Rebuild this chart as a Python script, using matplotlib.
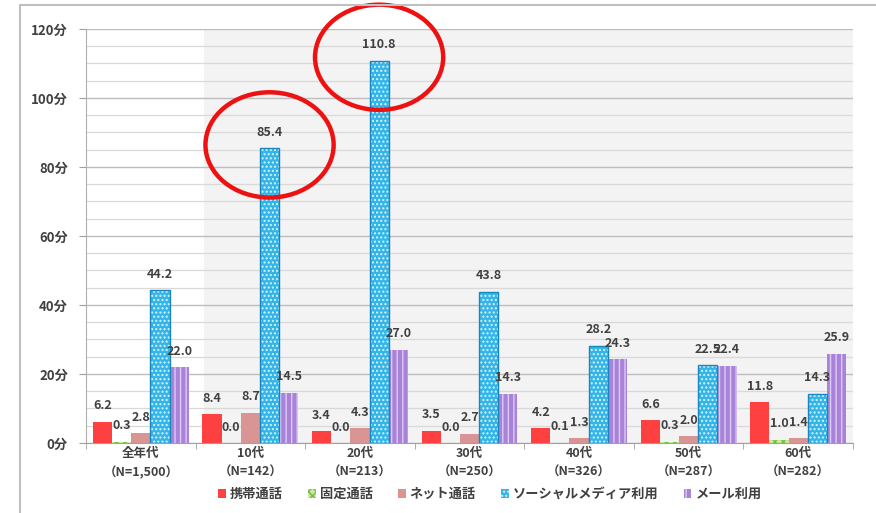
import numpy as np
import matplotlib
matplotlib.use("Agg")
import matplotlib.pyplot as plt
from matplotlib.patches import Ellipse, Rectangle

plt.rcParams["font.family"] = ["Noto Sans CJK JP", "DejaVu Sans"]
plt.rcParams["hatch.linewidth"] = 1.0

# --------- data (minutes per day) ---------
groups = ["全年代", "10代", "20代", "30代", "40代", "50代", "60代"]
sample_sizes = ["（N=1,500）", "（N=142）", "（N=213）", "（N=250）",
                "（N=326）", "（N=287）", "（N=282）"]
series_names = ["携帯通話", "固定通話", "ネット通話", "ソーシャルメディア利用", "メール利用"]

mobile_call = [6.2, 8.4, 3.4, 3.5, 4.2, 6.6, 11.8]
landline_call = [0.3, 0.0, 0.0, 0.0, 0.1, 0.3, 1.0]
net_call = [2.8, 8.7, 4.3, 2.7, 1.3, 2.0, 1.4]
social_media = [44.2, 85.4, 110.8, 43.8, 28.2, 22.5, 14.3]
email = [22.0, 14.5, 27.0, 14.3, 24.3, 22.4, 25.9]

# groups highlighted with a red ring
highlight = [1, 2]

# --------- styling ---------
face_colors = ["#ff4040", "#c8e6a0", "#d99594", "#33b5e8", "#a983da"]
hatch_colors = [None, "#6fbf3a", None, "#d8f1fc", "#dccbf3"]
hatches = [None, "xxxx", None, "....", "|||"]
outline_colors = [None, None, None, "#1a86c0", None]
text_color = "#404040"

fig = plt.figure(figsize=(8.76, 5.13), dpi=100)
ax = fig.add_axes([0.0982, 0.1365, 0.8755, 0.807])

x = np.arange(len(groups))
width = 0.175
values = [mobile_call, landline_call, net_call, social_media, email]

ax.axvspan(0.58, 6.5, color="#f3f3f3", zorder=0, lw=0)

handles = []
for i, (name, vals) in enumerate(zip(series_names, values)):
    pos = x + (i - 2) * width
    if hatches[i]:
        b = ax.bar(pos, vals, width, color=face_colors[i], edgecolor=hatch_colors[i],
                   hatch=hatches[i], linewidth=0, zorder=3, label=name)
    else:
        b = ax.bar(pos, vals, width, color=face_colors[i], linewidth=0,
                   zorder=3, label=name)
    if outline_colors[i]:
        ax.bar(pos, vals, width, fill=False, edgecolor=outline_colors[i],
               linewidth=1.0, zorder=4)
    handles.append(b)
    for xp, v in zip(pos, vals):
        ax.annotate(f"{v:.1f}", (xp, v), xytext=(0, 11.5), textcoords="offset points",
                    ha="center", va="center", fontsize=9, color=text_color,
                    fontweight="bold", zorder=5)

# red rings around the largest social media values
for g in highlight:
    cx = x[g] + width
    cy = social_media[g] + 1.0
    ring = Ellipse((cx, cy), 1.17, 30.5, fill=False, edgecolor="#ee1111",
                   linewidth=3.2, zorder=6, clip_on=False)
    ax.add_patch(ring)

# axes
ax.set_xlim(-0.5, 6.5)
ax.set_ylim(0, 120)
ax.set_yticks(np.arange(0, 121, 20))
ax.set_yticklabels([f"{t}分" for t in range(0, 121, 20)])
ax.set_yticks(np.arange(0, 121, 5), minor=True)
ax.grid(axis="y", which="major", color="#bdbdbd", linewidth=1.0, zorder=1)
ax.grid(axis="y", which="minor", color="#d9d9d9", linewidth=0.9, zorder=1)
ax.tick_params(axis="y", which="major", length=5, color="#a0a0a0", pad=8,
               labelsize=9.5, labelcolor=text_color)
ax.tick_params(axis="y", which="minor", length=0)
for lbl in ax.get_yticklabels():
    lbl.set_fontweight("bold")

ax.set_xticks(x)
ax.set_xticklabels([f"{g}\n{n}" for g, n in zip(groups, sample_sizes)],
                   fontsize=9, color=text_color, fontweight="bold", linespacing=1.55)
ax.tick_params(axis="x", which="major", length=0, pad=3)
ax.set_xticks(np.arange(-0.5, 7.0, 1.0), minor=True)
ax.tick_params(axis="x", which="minor", length=4, color="#a0a0a0")

for side in ["top", "right"]:
    ax.spines[side].set_visible(False)
ax.spines["left"].set_color("#b0b0b0")
ax.spines["bottom"].set_color("#a0a0a0")

fig.legend(handles=handles, labels=series_names, loc="center", bbox_to_anchor=(0.559, 0.037),
           ncol=5, frameon=False, handlelength=0.6, handleheight=0.6,
           handletextpad=0.3, columnspacing=1.9, labelcolor=text_color,
           prop={"weight": "bold", "size": 9.5})

# outer frame
fig.add_artist(Rectangle((20 / 876, -0.1), 1.0, 1.0 - 5 / 513 + 0.1, transform=fig.transFigure,
                         fill=False, edgecolor="#c0c0c0", linewidth=1.5))

fig.savefig("out.png", dpi=100)
